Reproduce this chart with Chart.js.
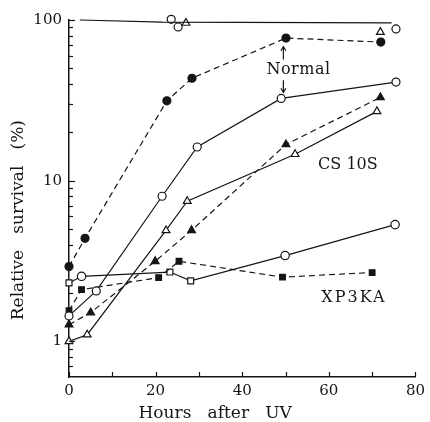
<!DOCTYPE html>
<html><head><meta charset="utf-8">
<script src="https://cdn.jsdelivr.net/npm/chart.js@4/dist/chart.umd.min.js"></script>
<style>html,body{margin:0;padding:0;background:#fff}#wrap{width:430px;height:422px}</style>
</head><body><div id="wrap"><canvas id="c"></canvas></div>
<script>
// ---- data ----
const normalFilledX = [0, 3.7, 22.6, 28.4, 50.1, 72.0];
const normalFilledY = [2.92, 4.38, 31.4, 43.4, 77.2, 72.9];
const normalOpenX = [0, 6.3, 21.5, 29.6, 49.0, 75.5];
const normalOpenY = [1.44, 2.06, 8.0, 16.2, 32.5, 41.1];
const cs10sFilledX = [0, 5.0, 19.9, 28.3, 50.1, 71.9];
const cs10sFilledY = [1.27, 1.51, 3.15, 4.91, 16.8, 33.0];
const cs10sOpenX = [0, 4.2, 22.4, 27.3, 52.2, 71.1];
const cs10sOpenY = [1.0, 1.1, 4.9, 7.45, 14.6, 27.0];
const xpFilledX = [0, 2.9, 20.7, 25.4, 49.3, 70.0];
const xpFilledY = [1.55, 2.10, 2.49, 3.15, 2.51, 2.68];
const xpOpenX = [0, 2.9, 23.3, 28.1, 49.9, 75.3];
const xpOpenY = [2.31, 2.54, 2.70, 2.38, 3.42, 5.33];
const controlLineX = [2.5, 21.5, 74.5];
const controlLineY = [100, 97, 96];
const controlPtsX = [23.6, 25.2, 27.0, 73.0, 71.9, 75.5];
const controlPtsY = [101, 90.6, 95.8, 111, 84, 88];
const xTickValues = [0, 10, 20, 30, 40, 50, 60, 70, 80];
const xTickLabels = [0, 20, 40, 60, 80];
const yTickValues = [0.7, 0.8, 0.9, 1, 2, 3, 4, 5, 6, 7, 8, 9, 10, 20, 30, 40, 50, 60, 70, 80, 90, 100];
const yTickLabels = [1, 10, 100];

// ---- styling ----
const INK = '#151515';
const FONT = 'DejaVu Serif';
const pts = (xs, ys) => xs.map((x, i) => ({x, y: ys[i]}));
const openStyle = {backgroundColor: '#fff', borderColor: INK};
const fillStyle = {backgroundColor: INK, borderColor: INK};

function series(xs, ys, style, shape, dashed, radius) {
  const fill = style === 'fill' ? fillStyle : openStyle;
  return {
    data: pts(xs, ys), showLine: true, borderColor: INK, borderWidth: 1.2,
    borderDash: dashed ? [6, 4] : [],
    pointStyle: shape, pointRadius: radius, pointBorderWidth: 1.2,
    pointBackgroundColor: fill.backgroundColor, pointBorderColor: fill.borderColor,
    tension: 0, clip: false
  };
}

const datasets = [
  series(normalFilledX, normalFilledY, 'fill', 'circle', true, 4),
  series(normalOpenX, normalOpenY, 'open', 'circle', false, 4),
  series(cs10sFilledX, cs10sFilledY, 'fill', 'triangle', true, 4.5),
  series(cs10sOpenX, cs10sOpenY, 'open', 'triangle', false, 4.5),
  series(xpFilledX, xpFilledY, 'fill', 'rect', true, 4),
  Object.assign(series(xpOpenX, xpOpenY, 'open', 'rect', false, 4.2),
    {pointStyle: ['rect', 'circle', 'rect', 'rect', 'circle', 'circle']}),
  {data: pts(controlLineX, controlLineY), showLine: true, borderColor: INK, borderWidth: 1.2,
   pointRadius: 0, clip: false},
  {data: pts(controlPtsX, controlPtsY), showLine: false, clip: false,
   pointStyle: ['circle', 'circle', 'triangle', 'rect', 'triangle', 'circle'],
   pointRadius: [4, 4, 4.5, 4.2, 4.5, 4], pointBorderWidth: 1.2,
   pointBackgroundColor: '#fff', pointBorderColor: INK}
];

// inward tick marks + text annotations
const decor = {
  id: 'decor',
  afterDraw(chart) {
    const {ctx, scales: {x, y}} = chart;
    ctx.save();
    ctx.strokeStyle = INK; ctx.lineWidth = 1.2;
    const left = x.left, bottom = y.bottom;
    yTickValues.forEach(v => {
      const py = Math.round(y.getPixelForValue(v)) + 0.5;
      const len = yTickLabels.includes(v) ? 6 : 4;
      ctx.beginPath(); ctx.moveTo(left, py); ctx.lineTo(left + len, py); ctx.stroke();
    });
    xTickValues.forEach(v => {
      const px = Math.round(x.getPixelForValue(v)) + 0.5;
      ctx.beginPath(); ctx.moveTo(px, bottom); ctx.lineTo(px, bottom - 5); ctx.stroke();
    });
    // labels
    ctx.fillStyle = INK;
    ctx.font = '16px "' + FONT + '"';
    ctx.textAlign = 'center'; ctx.textBaseline = 'middle';
    const label = (t, xv, yv, sp) => {
      ctx.letterSpacing = sp;
      ctx.fillText(t, x.getPixelForValue(xv), y.getPixelForValue(yv));
    };
    label('Normal', 53, 49.3, '0.5px');
    label('CS 10S', 64.4, 12.6, '0px');
    label('XP3KA', 65.8, 1.87, '2px');
    ctx.letterSpacing = '0px';
    // arrows near "Normal"
    const arrow = (xv, y0, y1) => {
      const px = x.getPixelForValue(xv), a = y.getPixelForValue(y0), b = y.getPixelForValue(y1);
      ctx.beginPath(); ctx.moveTo(px, a); ctx.lineTo(px, b); ctx.stroke();
      const d = b < a ? 1 : -1;
      ctx.beginPath(); ctx.moveTo(px - 2.5, b + 4 * d); ctx.lineTo(px, b); ctx.lineTo(px + 2.5, b + 4 * d); ctx.stroke();
    };
    arrow(49.5, 56.7, 68.2);
    arrow(49.5, 42.2, 35.5);
    ctx.restore();
  }
};

new Chart(document.getElementById('c'), {
  type: 'scatter',
  data: {datasets},
  options: {
    responsive: true, maintainAspectRatio: false, animation: false,
    devicePixelRatio: 1,
    layout: {padding: {left: 0, right: 12, top: 20, bottom: 0}},
    plugins: {legend: {display: false}, tooltip: {enabled: false}},
    scales: {
      x: {
        type: 'linear', min: 0, max: 80,
        afterBuildTicks: s => { s.ticks = xTickValues.map(v => ({value: v})); },
        afterFit: s => { s.height = 45; },
        ticks: {autoSkip: false, maxRotation: 0, padding: 5, color: INK,
          font: {family: FONT, size: 15},
          callback: v => xTickLabels.includes(v) ? String(v) : ''},
        grid: {display: true, drawOnChartArea: false, drawTicks: false},
        border: {display: true, color: INK, width: 1.5},
        title: {display: true, text: 'Hours   after   UV          ', color: INK,
          font: {family: FONT, size: 17, lineHeight: 1}, padding: {top: 0, bottom: 0}}
      },
      y: {
        type: 'logarithmic', min: 0.635, max: 100,
        afterBuildTicks: s => { s.ticks = yTickValues.map(v => ({value: v})); },
        afterFit: s => { s.width = 69; },
        ticks: {autoSkip: false, padding: 7, color: INK,
          font: {family: FONT, size: 15},
          callback: v => yTickLabels.includes(v) ? String(v) : ''},
        grid: {display: true, drawOnChartArea: false, drawTicks: false},
        border: {display: true, color: INK, width: 1.5},
        title: {display: true, text: 'Relative   survival   (%)        ', color: INK,
          font: {family: FONT, size: 17, lineHeight: 1}, padding: {top: 10, bottom: 0}}
      }
    }
  },
  plugins: [decor]
});
</script>
</body></html>
